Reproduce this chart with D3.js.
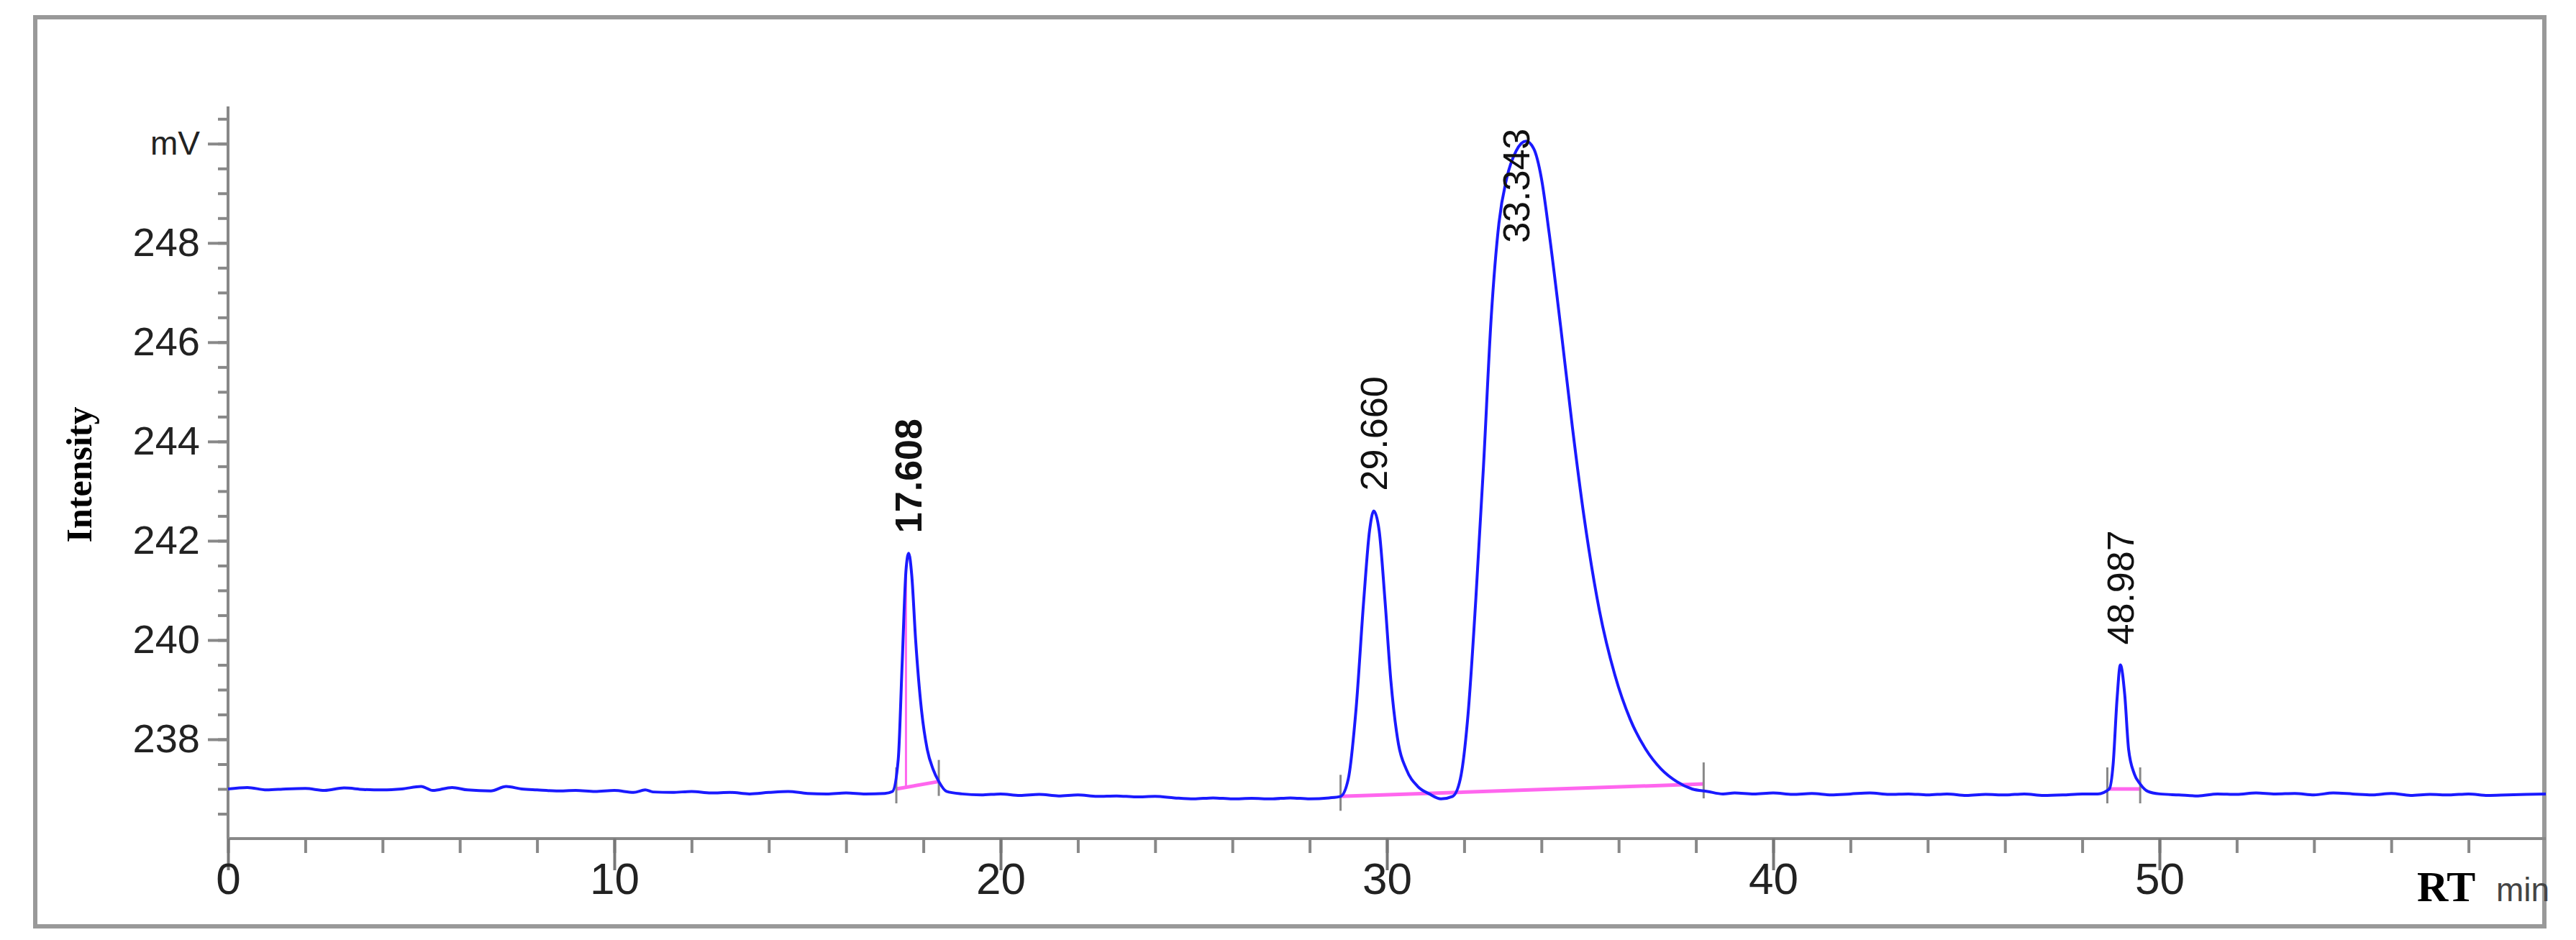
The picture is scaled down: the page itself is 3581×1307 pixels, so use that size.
<!DOCTYPE html>
<html><head><meta charset="utf-8">
<script src="https://cdn.jsdelivr.net/npm/d3@7"></script>
<style>body{margin:0;background:#fff}</style></head>
<body><svg id="c" width="3581" height="1307"></svg>
<script>
const signalTime = [0,0.5,1,1.5,2,2.5,3,3.5,4,4.5,5,5.3,5.8,6.2,6.8,7.2,7.6,8,8.5,9,9.5,10,10.5,10.8,11,11.5,12,12.5,13,13.5,14,14.5,15,15.5,16,16.5,17,17.2,
17.35,17.45,17.55,17.62,17.7,17.8,17.95,18.1,18.25,18.4,18.6,
19,19.5,20,20.5,21,21.5,22,22.5,23,23.5,24,24.5,25,25.5,26,26.5,27,27.5,28,28.5,28.8,
29.0,29.2,29.4,29.55,29.66,29.8,29.95,30.1,30.3,30.5,30.8,31.1,31.4,31.7,31.9,
32.1,32.3,32.5,32.7,32.9,33.1,33.343,33.6,33.8,34.0,34.2,34.5,34.8,35.1,35.5,35.9,36.3,36.7,37.1,37.5,37.9,38.3,38.7,
39,39.5,40,40.5,41,41.5,42,42.5,43,43.5,44,44.5,45,45.5,46,46.5,47,47.5,48,48.4,48.7,
48.8,48.9,48.987,49.1,49.2,49.35,49.5,49.7,
50,50.5,51,51.5,52,52.5,53,53.5,54,54.5,55,55.5,56,56.5,57,57.5,58,58.5,59,59.5,60];
const signalMv = [237.0,237.03,236.98,237.0,237.01,236.97,237.02,236.99,236.98,237.0,237.05,236.97,237.03,236.98,236.96,237.05,237.0,236.98,236.96,236.97,236.95,236.97,236.93,236.98,236.94,236.93,236.95,236.92,236.93,236.9,236.93,236.95,236.91,236.9,236.92,236.9,236.91,236.95,
237.6,239.5,241.4,241.75,241.3,240.0,238.6,237.8,237.4,237.15,236.95,
236.9,236.88,236.9,236.87,236.89,236.86,236.88,236.85,236.86,236.84,236.85,236.82,236.8,236.82,236.8,236.81,236.8,236.82,236.8,236.82,236.85,
237.2,238.6,240.8,242.2,242.6,242.2,240.8,239.2,237.9,237.4,237.05,236.9,236.8,236.85,237.2,
238.5,240.8,243.5,246.5,248.4,249.3,249.85,250.05,249.9,249.3,248.2,246.3,244.3,242.5,240.6,239.3,238.4,237.8,237.4,237.15,237.0,236.95,236.9,
236.92,236.9,236.92,236.89,236.91,236.88,236.9,236.92,236.89,236.9,236.88,236.9,236.87,236.89,236.88,236.9,236.87,236.88,236.9,236.9,237.0,
237.5,238.8,239.5,238.9,237.8,237.3,237.1,236.95,
236.9,236.88,236.86,236.9,236.89,236.92,236.9,236.91,236.88,236.92,236.9,236.88,236.91,236.87,236.89,236.88,236.9,236.87,236.88,236.89,236.9];
const peakTimes = [17.608,29.660,33.343,48.987];
const peakLabels = ["17.608","29.660","33.343","48.987"];
const peakHeights = [241.75,242.6,250.05,239.5];
const baselineSegments = [[17.3,237.0,18.4,237.15],[28.8,236.85,38.2,237.1],[48.65,237.0,49.5,237.0]];
const yTicks = [238,240,242,244,246,248,250];
const xTicks = [0,10,20,30,40,50];

const svg = d3.select("#c");
svg.append("rect").attr("x",49).attr("y",24).attr("width",3488).attr("height",1264)
  .attr("fill","none").attr("stroke","#999").attr("stroke-width",6);

const x = d3.scaleLinear().domain([0,60]).range([317,3539]);
const y = d3.scaleLinear().domain([236,250.75]).range([1166,148]);

const gy = svg.append("g").attr("transform","translate(317,0)")
  .call(d3.axisLeft(y).tickValues(d3.range(236.5,250.75,0.5)).tickSize(14).tickFormat(""));
gy.selectAll("line,path").attr("stroke","#888").attr("stroke-width",4);
gy.select("path").attr("d","M0,1166V148");
const gy2 = svg.append("g").attr("transform","translate(317,0)")
  .call(d3.axisLeft(y).tickValues(yTicks).tickSize(28).tickFormat(d=>d===250?"mV":d));
gy2.select("path").remove();
gy2.selectAll("line").attr("stroke","#888").attr("stroke-width",4);
gy2.selectAll("text").attr("font-family","Arial, Liberation Sans").attr("font-size",d=>d===250?46:56).attr("fill","#222").attr("dx",-8);

const gx = svg.append("g").attr("transform","translate(0,1166)")
  .call(d3.axisBottom(x).tickValues(d3.range(0,60,2)).tickSize(20).tickFormat(""));
gx.selectAll("line,path").attr("stroke","#888").attr("stroke-width",4);
gx.select("path").attr("d","M317,0H3539");
const gx2 = svg.append("g").attr("transform","translate(0,1166)")
  .call(d3.axisBottom(x).tickValues(xTicks).tickSize(44));
gx2.select("path").remove();
gx2.selectAll("line").attr("stroke","#777").attr("stroke-width",4);
gx2.selectAll("text").attr("font-family","Liberation Sans Narrow, Arial").attr("font-size",62).attr("fill","#222").attr("dy",30);

const pink = svg.append("g");
baselineSegments.forEach(s=>{
  pink.append("line").attr("x1",x(s[0])).attr("y1",y(s[1])).attr("x2",x(s[2])).attr("y2",y(s[3]))
    .attr("stroke","#ff66ee").attr("stroke-width",5);
  [[s[0],s[1]],[s[2],s[3]]].forEach(p=>pink.append("line").attr("x1",x(p[0])).attr("x2",x(p[0]))
    .attr("y1",y(p[1])-30).attr("y2",y(p[1])+20).attr("stroke","#888").attr("stroke-width",3));
});
pink.append("line").attr("x1",x(17.55)).attr("x2",x(17.55)).attr("y1",y(237.05)).attr("y2",y(241.5))
  .attr("stroke","#ff66ee").attr("stroke-width",3);

const pts = signalTime.map((t,i)=>[t,signalMv[i]]);
svg.append("path").datum(pts).attr("fill","none").attr("stroke","#1a1aff").attr("stroke-width",4)
  .attr("d",d3.line().x(d=>x(d[0])).y(d=>y(d[1])).curve(d3.curveMonotoneX));

peakTimes.forEach((t,i)=>{
  const yy = i===2 ? y(248.0) : y(peakHeights[i]) - 28;
  svg.append("text").attr("transform",`translate(${x(t)+18},${yy}) rotate(-90)`)
    .attr("font-family","Arial, Liberation Sans").attr("font-size",52)
    .attr("font-weight",i===0?"bold":"normal").attr("fill","#111").text(peakLabels[i]);
});

svg.append("text").attr("transform","translate(127,660) rotate(-90)").attr("text-anchor","middle")
  .attr("font-family","Liberation Serif, Times New Roman").attr("font-weight","bold").attr("font-size",50).text("Intensity");
svg.append("text").attr("x",3360).attr("y",1253).attr("font-family","Liberation Serif").attr("font-weight","bold")
  .attr("font-size",60).text("RT");
svg.append("text").attr("x",3470).attr("y",1253).attr("font-family","Liberation Sans Narrow, Arial")
  .attr("font-size",46).attr("fill","#444").text("min");
</script></body></html>
